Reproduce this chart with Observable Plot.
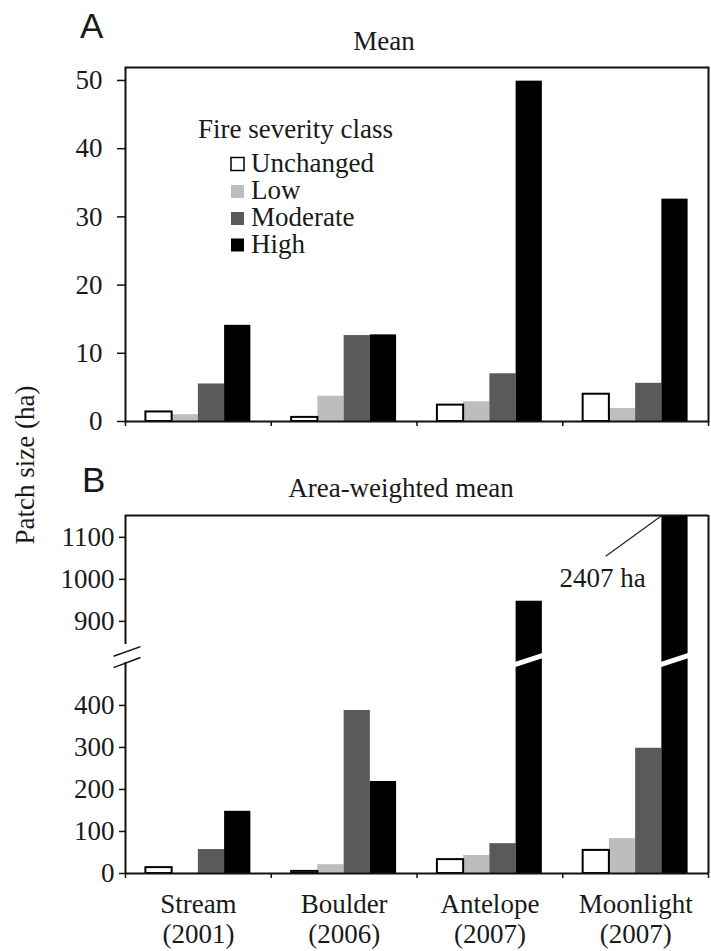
<!DOCTYPE html>
<html>
<head>
<meta charset="utf-8">
<script src="https://cdn.jsdelivr.net/npm/d3@7"></script>
<script src="https://cdn.jsdelivr.net/npm/@observablehq/plot@0.6"></script>
<style>
html,body{margin:0;padding:0;background:#fff;}
#wrap{position:relative;width:711px;height:951px;overflow:hidden;background:#fff;}
.layer{position:absolute;left:0;}
</style>
</head>
<body>
<div id="wrap"></div>
<script>
// ---------- data ----------
const fires = ["Stream", "Boulder", "Antelope", "Moonlight"];
const years = ["2001", "2006", "2007", "2007"];
const severity = ["Unchanged", "Low", "Moderate", "High"];
const fills = ["#ffffff", "#bdbdbd", "#5a5a5a", "#000000"];

// Panel A: mean patch size (ha)
const meanUnchanged = [1.4, 0.6, 2.4, 4.0];
const meanLow       = [1.0, 3.7, 2.9, 1.9];
const meanModerate  = [5.5, 12.6, 7.0, 5.6];
const meanHigh      = [14.1, 12.7, 49.9, 32.6];

// Panel B: area-weighted mean patch size (ha)
const awUnchanged = [14, 5, 33, 55];
const awLow       = [1, 21, 43, 83];
const awModerate  = [57, 388, 71, 298];
const awHigh      = [148, 219, 948, 2407];

const meanTicks = [0, 10, 20, 30, 40, 50];
const awTicks = [0, 100, 200, 300, 400, 900, 1000, 1100];
const catTicks = [0, 1, 2, 3, 4];
const labelTicks = [0.5, 1.5, 2.5, 3.5];

// ---------- helpers ----------
const SERIF = '"Liberation Serif","Times New Roman",Times,serif';
const SANS = '"Liberation Sans",Arial,Helvetica,sans-serif';
const INK = "#1a1a1a";
const LINE = "#111";
const off = 0.14, bw = 0.18;
const plain = d => String(d);

function rowsFor(series) {
  return fires.flatMap((f, i) => severity.map((s, j) => ({fire: f, fi: i, sev: s, si: j, value: series[j][i]})));
}
const meanRows = rowsFor([meanUnchanged, meanLow, meanModerate, meanHigh]);
const awRows = rowsFor([awUnchanged, awLow, awModerate, awHigh]);
const bx1 = d => d.fi + off + d.si * bw;
const bx2 = d => d.fi + off + (d.si + 1) * bw;

const wrap = document.getElementById("wrap");
function place(el, top) {
  const div = document.createElement("div");
  div.className = "layer";
  div.style.top = top + "px";
  div.append(el);
  wrap.append(div);
}
const textOpts = {fontFamily: SERIF, fontSize: 27, fill: INK};

// ---------- Panel A ----------
const plotA = Plot.plot({
  width: 711, height: 440,
  marginLeft: 125, marginRight: 3, marginTop: 67, marginBottom: 19,
  style: {fontFamily: SERIF, fontSize: "27px", color: INK, background: "transparent", overflow: "visible"},
  x: {domain: [0, 4]},
  y: {domain: [0, 51.9]},
  color: {domain: severity, range: fills},
  marks: [
    Plot.rect(meanRows, {x1: bx1, x2: bx2, y1: 0, y2: "value", fill: "sev"}),
    Plot.rect(meanRows.filter(d => d.si === 0), {x1: bx1, x2: bx2, y1: 0, y2: "value", fill: "none", stroke: "#000", strokeWidth: 2}),
    Plot.frame({stroke: LINE, strokeWidth: 2}),
    Plot.axisY(meanTicks, {...textOpts, tickSize: 8, tickPadding: 15, stroke: LINE, strokeWidth: 1.5, tickFormat: plain, label: null}),
    Plot.axisX(catTicks, {tickSize: 5, tickFormat: () => "", stroke: LINE, strokeWidth: 1.5, label: null})
  ]
});
place(plotA, 0);

// ---------- Panel B (broken axis) ----------
const brk = v => v >= 820 ? v - 300 : v;
const topB = 1152;
const breakMarks = [{y1: 490, y2: 514}, {y1: 517, y2: 540}];
const plotB = Plot.plot({
  width: 711, height: 511,
  marginLeft: 125, marginRight: 3, marginTop: 75, marginBottom: 78,
  style: {fontFamily: SERIF, fontSize: "27px", color: INK, background: "transparent", overflow: "visible"},
  x: {domain: [0, 4]},
  y: {domain: [0, brk(topB)], transform: brk, clamp: true},
  color: {domain: severity, range: fills},
  marks: [
    Plot.rect(awRows, {x1: bx1, x2: bx2, y1: 0, y2: "value", fill: "sev"}),
    Plot.rect(awRows.filter(d => d.si === 0), {x1: bx1, x2: bx2, y1: 0, y2: "value", fill: "none", stroke: "#000", strokeWidth: 2}),
    Plot.link(awRows.filter(d => d.value >= 820), {x1: d => bx1(d) - 0.02, x2: d => bx2(d) + 0.02, y1: 496, y2: 521, stroke: "#fff", strokeWidth: 5}),
    Plot.ruleY([topB], {stroke: LINE, strokeWidth: 2}),
    Plot.ruleY([0], {stroke: LINE, strokeWidth: 2}),
    Plot.ruleX([4], {y1: 0, y2: topB, stroke: LINE, strokeWidth: 2}),
    Plot.ruleX([0], {y1: 0, y2: 502, stroke: LINE, strokeWidth: 2}),
    Plot.ruleX([0], {y1: 845, y2: topB, stroke: LINE, strokeWidth: 2}),
    Plot.link(breakMarks, {x1: -0.082, x2: 0.103, y1: "y1", y2: "y2", stroke: LINE, strokeWidth: 1.5}),
    Plot.axisY(awTicks, {...textOpts, tickSize: 6, tickPadding: 5, stroke: LINE, strokeWidth: 1.5, tickFormat: plain, label: null}),
    Plot.axisX(catTicks, {tickSize: 5, tickFormat: () => "", stroke: LINE, strokeWidth: 1.5, label: null}),
    Plot.axisX(labelTicks, {...textOpts, tickSize: 0, tickPadding: 18, lineHeight: 1.12, label: null,
      tickFormat: t => `${fires[Math.floor(t)]}\n(${years[Math.floor(t)]})`}),
    Plot.link(awRows.filter(d => d.value > topB), {x1: bx1, y1: topB, x2: d => bx1(d) - 0.385, y2: 1055, stroke: "#222", strokeWidth: 1.2}),
    Plot.text(awRows.filter(d => d.value > topB), {...textOpts, x: d => bx1(d) - 0.407, y: 1002, text: d => `${d.value} ha`})
  ]
});
place(plotB, 440);

// ---------- Overlay text (panel letters, titles, legend, y label) ----------
const ov = d3.create("svg")
  .attr("width", 711).attr("height", 951)
  .style("position", "absolute").style("left", "0px").style("top", "0px")
  .style("pointer-events", "none");

ov.append("text").attr("x", 80).attr("y", 38).attr("font-family", SANS).attr("font-size", 35).attr("fill", INK).text("A");
ov.append("text").attr("x", 82).attr("y", 492).attr("font-family", SANS).attr("font-size", 35).attr("fill", INK).text("B");
ov.append("text").attr("x", 384).attr("y", 50).attr("text-anchor", "middle").attr("font-family", SERIF).attr("font-size", 27).attr("fill", INK).text("Mean");
ov.append("text").attr("x", 401).attr("y", 497).attr("text-anchor", "middle").attr("font-family", SERIF).attr("font-size", 27).attr("fill", INK).text("Area-weighted mean");
ov.append("text").attr("transform", "translate(34,465) rotate(-90)").attr("text-anchor", "middle").attr("font-family", SERIF).attr("font-size", 27).attr("fill", INK).text("Patch size (ha)");

// legend
ov.append("text").attr("x", 198).attr("y", 138).attr("font-family", SERIF).attr("font-size", 27).attr("fill", INK).text("Fire severity class");
const legBase = [171.5, 199, 226, 252.5];
severity.forEach((s, j) => {
  ov.append("rect").attr("x", 231).attr("y", legBase[j] - 14).attr("width", 13).attr("height", 13)
    .attr("fill", fills[j]).attr("stroke", j === 0 ? "#000" : "none").attr("stroke-width", 1.5);
  ov.append("text").attr("x", 251).attr("y", legBase[j]).attr("font-family", SERIF).attr("font-size", 27).attr("fill", INK).text(s);
});

wrap.append(ov.node());
</script>
</body>
</html>
